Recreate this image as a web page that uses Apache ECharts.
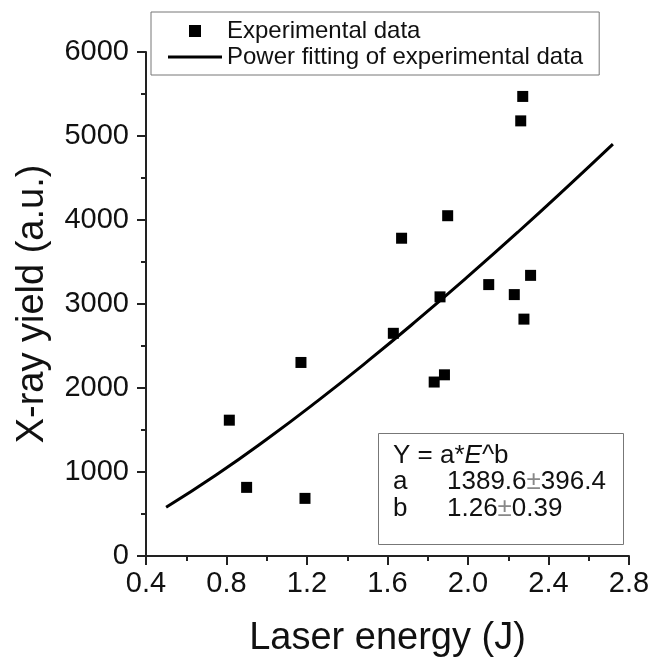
<!DOCTYPE html>
<html>
<head>
<meta charset="utf-8">
<script src="https://cdn.jsdelivr.net/npm/echarts@6/dist/echarts.min.js"></script>
<style>
html,body{margin:0;padding:0;background:#fff;}
#chart{width:665px;height:663px;}
</style>
</head>
<body>
<div id="chart"></div>
<script>
// Experimental data (laser energy J, X-ray yield a.u.)
const expEnergy = [0.814, 0.90, 1.17, 1.19, 1.629, 1.67, 1.832, 1.861, 1.883, 1.899, 2.103, 2.23, 2.262, 2.272, 2.278, 2.311];
const expYield  = [1617, 817, 2304, 686, 2651, 3783, 2071, 3085, 2157, 4051, 3231, 3112, 5180, 5471, 2820, 3341];
// Power fit curve
const fitEnergy = [0.5, 0.75, 1.0, 1.25, 1.5, 1.75, 2.0, 2.25, 2.5, 2.72];
const fitYield  = [580, 967, 1390, 1841, 2316, 2813, 3328, 3860, 4409, 4903];
const xTicks = [0.4, 0.8, 1.2, 1.6, 2.0, 2.4, 2.8];
const yTicks = [0, 1000, 2000, 3000, 4000, 5000, 6000];

const FONT = 'Liberation Sans, Arial, sans-serif';
const chart = echarts.init(document.getElementById('chart'));
const axisColor = '#222';

chart.setOption({
  backgroundColor: '#fff',
  animation: false,
  grid: {left: 146, right: 36, top: 52, bottom: 104},
  xAxis: {
    type: 'value', min: xTicks[0], max: xTicks[xTicks.length-1], interval: 0.4,
    name: 'Laser energy (J)', nameLocation: 'middle', nameGap: 64,
    nameTextStyle: {fontFamily: FONT, fontSize: 38, color: '#111'},
    axisLine: {lineStyle: {color: axisColor, width: 2}},
    axisTick: {inside: false, length: 9, lineStyle: {color: axisColor, width: 2}},
    minorTick: {show: true, splitNumber: 2, length: 5, lineStyle: {color: axisColor, width: 2}},
    splitLine: {show: false},
    axisLabel: {fontFamily: FONT, fontSize: 29, color: '#111', margin: 13,
      formatter: v => v.toFixed(1)}
  },
  yAxis: {
    type: 'value', min: yTicks[0], max: yTicks[yTicks.length-1], interval: 1000,
    name: 'X-ray yield (a.u.)', nameLocation: 'middle', nameGap: 94, nameRotate: 90,
    nameTextStyle: {fontFamily: FONT, fontSize: 38, color: '#111'},
    axisLine: {show: true, lineStyle: {color: axisColor, width: 2}},
    axisTick: {show: true, inside: false, length: 9, lineStyle: {color: axisColor, width: 2}},
    minorTick: {show: true, splitNumber: 2, length: 5, lineStyle: {color: axisColor, width: 2}},
    splitLine: {show: false},
    axisLabel: {fontFamily: FONT, fontSize: 29, color: '#111', margin: 17,
      formatter: v => String(v)}
  },
  legend: {
    orient: 'vertical', left: 151, top: 12,
    padding: [7, 16, 6, 17], itemGap: 2,
    itemWidth: 54, itemHeight: 12,
    borderColor: '#777', borderWidth: 1, backgroundColor: '#fff',
    textStyle: {fontFamily: FONT, fontSize: 24, color: '#111'},
    data: [
      {name: 'Experimental data', icon: 'path://M0,0L10,0L10,10L0,10Z'},
      {name: 'Power fitting of experimental data', icon: 'path://M0,0L54,0L54,3L0,3Z'}
    ]
  },
  graphic: [
    {type: 'rect', left: 378, top: 433, z: 10,
      shape: {width: 245, height: 111},
      style: {fill: '#fff', stroke: '#777', lineWidth: 1}},
    {type: 'text', left: 393, top: 443, z: 11,
      style: {text: '{n|Y = a*}{i|E}{n|^b}', rich: {
        n: {fontFamily: FONT, fontSize: 26, fill: '#111'},
        i: {fontFamily: FONT, fontSize: 26, fontStyle: 'italic', fill: '#111'}}}},
    {type: 'text', left: 393, top: 469, z: 11,
      style: {text: 'a', fontFamily: FONT, fontSize: 26, fill: '#111'}},
    {type: 'text', left: 447, top: 469, z: 11,
      style: {text: '{n|1389.6}{p|±}{n|396.4}', rich: {
        n: {fontFamily: FONT, fontSize: 26, fill: '#111'},
        p: {fontFamily: FONT, fontSize: 26, fill: '#888'}}}},
    {type: 'text', left: 393, top: 496, z: 11,
      style: {text: 'b', fontFamily: FONT, fontSize: 26, fill: '#111'}},
    {type: 'text', left: 447, top: 496, z: 11,
      style: {text: '{n|1.26}{p|±}{n|0.39}', rich: {
        n: {fontFamily: FONT, fontSize: 26, fill: '#111'},
        p: {fontFamily: FONT, fontSize: 26, fill: '#888'}}}}
  ],
  series: [
    {
      name: 'Experimental data', type: 'scatter',
      symbol: 'rect', symbolSize: 11,
      itemStyle: {color: '#000', opacity: 1},
      data: expEnergy.map((e, i) => [e, expYield[i]]),
      z: 3
    },
    {
      name: 'Power fitting of experimental data', type: 'line',
      smooth: true, showSymbol: false, symbol: 'none',
      lineStyle: {color: '#000', width: 3},
      itemStyle: {color: '#000', opacity: 1},
      data: fitEnergy.map((e, i) => [e, fitYield[i]]),
      z: 2
    }
  ]
});
</script>
</body>
</html>
